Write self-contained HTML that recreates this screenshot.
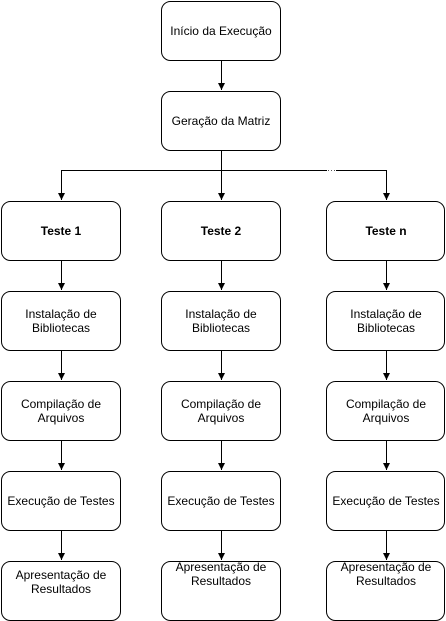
<!DOCTYPE html>
<html><head><meta charset="utf-8"><style>
html,body{margin:0;padding:0;background:#fff;}
svg{display:block;font-family:"Liberation Sans",sans-serif;font-size:12px;}
</style></head><body>
<svg width="446" height="621" viewBox="0 0 446 621" xmlns="http://www.w3.org/2000/svg">
<defs><marker id="a" markerWidth="8" markerHeight="8" refX="7" refY="4" orient="auto" markerUnits="userSpaceOnUse"><path d="M0,0.5 L7,4 L0,7.5 Z" fill="#000"/></marker></defs>
<g fill="#fff" stroke="#000" stroke-width="1">
<rect x="161.5" y="1.5" width="119" height="59" rx="9"/>
<rect x="161.5" y="91.5" width="119" height="59" rx="9"/>
<rect x="1.5" y="201.5" width="119" height="59" rx="9"/>
<rect x="161.5" y="201.5" width="119" height="59" rx="9"/>
<rect x="326.5" y="201.5" width="118" height="59" rx="9"/>
<rect x="1.5" y="291.5" width="119" height="59" rx="9"/>
<rect x="161.5" y="291.5" width="119" height="59" rx="9"/>
<rect x="326.5" y="291.5" width="118" height="59" rx="9"/>
<rect x="1.5" y="381.5" width="119" height="59" rx="9"/>
<rect x="161.5" y="381.5" width="119" height="59" rx="9"/>
<rect x="326.5" y="381.5" width="118" height="59" rx="9"/>
<rect x="1.5" y="471.5" width="119" height="59" rx="9"/>
<rect x="161.5" y="471.5" width="119" height="59" rx="9"/>
<rect x="326.5" y="471.5" width="118" height="59" rx="9"/>
<rect x="1.5" y="561.5" width="119" height="59" rx="9"/>
<rect x="161.5" y="561.5" width="119" height="59" rx="9"/>
<rect x="326.5" y="561.5" width="118" height="59" rx="9"/>
</g>
<g stroke="#000" stroke-width="1" fill="none" marker-end="url(#a)">
<path d="M221.5 61 V90"/>
<path d="M221.5 151 V200"/>
<path d="M221.5 170.5 H61.5 V200"/>
<path d="M221.5 170.5 H386.5 V200"/>
<path d="M61.5 261 V290"/><path d="M221.5 261 V290"/><path d="M386.5 261 V290"/>
<path d="M61.5 351 V380"/><path d="M221.5 351 V380"/><path d="M386.5 351 V380"/>
<path d="M61.5 441 V470"/><path d="M221.5 441 V470"/><path d="M386.5 441 V470"/>
<path d="M61.5 531 V560"/><path d="M221.5 531 V560"/><path d="M386.5 531 V560"/>
</g>
<rect x="327" y="168" width="9" height="5" fill="#fff"/>
<g fill="#555"><rect x="328" y="170" width="1" height="1"/><rect x="331" y="170" width="1" height="1"/><rect x="334" y="170" width="1" height="1"/></g>
<g text-anchor="middle" fill="#000">
<text x="221" y="35">Início da Execução</text>
<text x="221" y="125">Geração da Matriz</text>
<text x="61" y="235" font-weight="bold">Teste 1</text>
<text x="221" y="235" font-weight="bold">Teste 2</text>
<text x="386" y="235" font-weight="bold">Teste n</text>
<text x="61" y="318">Instalação de</text><text x="61" y="332">Bibliotecas</text>
<text x="221" y="318">Instalação de</text><text x="221" y="332">Bibliotecas</text>
<text x="386" y="318">Instalação de</text><text x="386" y="332">Bibliotecas</text>
<text x="61" y="408">Compilação de</text><text x="61" y="422">Arquivos</text>
<text x="221" y="408">Compilação de</text><text x="221" y="422">Arquivos</text>
<text x="386" y="408">Compilação de</text><text x="386" y="422">Arquivos</text>
<text x="61" y="505">Execução de Testes</text>
<text x="221" y="505">Execução de Testes</text>
<text x="386" y="505">Execução de Testes</text>
<text x="61" y="579">Apresentação de</text><text x="61" y="593">Resultados</text>
<text x="221" y="571">Apresentação de</text><text x="221" y="585">Resultados</text>
<text x="386" y="571">Apresentação de</text><text x="386" y="585">Resultados</text>
</g>
</svg>
</body></html>
